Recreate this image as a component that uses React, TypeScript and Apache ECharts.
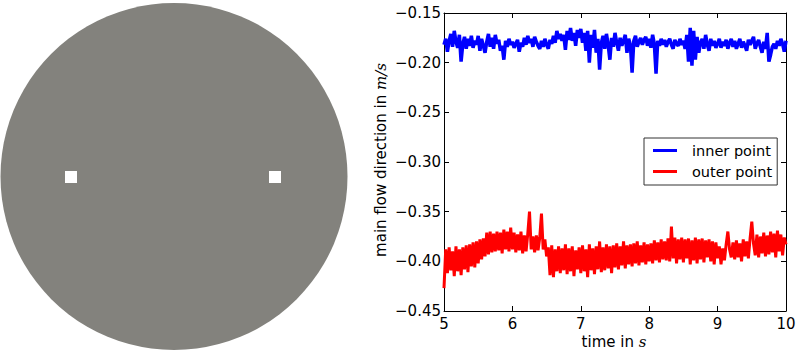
import React, { useEffect, useRef } from "react";
import * as echarts from "echarts";

// sampling grid of the recorded signals (seconds)
const T0 = 5;
const DT = 0.025;

const xTicks = [5, 6, 7, 8, 9, 10];
const yTicks = [-0.45, -0.4, -0.35, -0.3, -0.25, -0.2, -0.15];

const seriesNames = ["inner point", "outer point"];

// main flow velocity at the inner point (m/s), one value every 0.025 s from 5 s to 10 s
const innerPoint = [
  -0.182, -0.176, -0.189, -0.178, -0.171, -0.184, -0.168, -0.179, -0.185, -0.172,
  -0.199, -0.181, -0.174, -0.186, -0.176, -0.183, -0.173, -0.185, -0.178, -0.182,
  -0.173, -0.188, -0.176, -0.183, -0.19, -0.179, -0.171, -0.184, -0.175, -0.186,
  -0.172, -0.181, -0.177, -0.188, -0.183, -0.197, -0.178, -0.184, -0.176, -0.182,
  -0.179, -0.185, -0.181, -0.177, -0.189, -0.18, -0.184, -0.175, -0.182, -0.173,
  -0.18, -0.176, -0.184, -0.174, -0.179, -0.183, -0.186, -0.178, -0.184, -0.176,
  -0.182, -0.186, -0.177, -0.181, -0.173, -0.18, -0.168, -0.176, -0.171, -0.178,
  -0.172, -0.187, -0.168, -0.177, -0.165, -0.178, -0.17, -0.183, -0.167, -0.175,
  -0.166, -0.18, -0.17, -0.188, -0.168, -0.2, -0.172, -0.185, -0.167, -0.19,
  -0.176, -0.207, -0.18, -0.173, -0.186, -0.171, -0.182, -0.197, -0.175, -0.184,
  -0.17, -0.18, -0.188, -0.175, -0.183, -0.178, -0.172, -0.19, -0.176, -0.182,
  -0.21, -0.178, -0.173, -0.184, -0.179, -0.175, -0.182, -0.177, -0.174, -0.183,
  -0.176, -0.185, -0.172, -0.181, -0.211, -0.178, -0.183, -0.176, -0.182, -0.177,
  -0.184, -0.179, -0.176, -0.182, -0.186, -0.177, -0.181, -0.183, -0.176, -0.182,
  -0.178, -0.186, -0.172, -0.199, -0.165, -0.203, -0.168, -0.197, -0.174, -0.19,
  -0.18, -0.176, -0.186, -0.172, -0.182, -0.188, -0.176, -0.183, -0.178, -0.185,
  -0.181, -0.176, -0.185, -0.179, -0.183, -0.177, -0.186, -0.18, -0.176, -0.184,
  -0.178, -0.186, -0.181, -0.176, -0.185, -0.179, -0.183, -0.188, -0.177, -0.182,
  -0.178, -0.174, -0.186, -0.181, -0.177, -0.184, -0.19, -0.179, -0.186, -0.17,
  -0.199, -0.192, -0.184, -0.181, -0.186, -0.178, -0.183, -0.176, -0.181, -0.189,
  -0.178,
];

// main flow velocity at the outer point (m/s), same sampling
const outerPoint = [
  -0.427, -0.388, -0.412, -0.386, -0.409, -0.39, -0.415, -0.385, -0.41, -0.388,
  -0.414, -0.386, -0.408, -0.384, -0.411, -0.383, -0.405, -0.381, -0.406, -0.38,
  -0.402, -0.378, -0.398, -0.377, -0.395, -0.371, -0.393, -0.37, -0.391, -0.372,
  -0.39, -0.37, -0.389, -0.371, -0.392, -0.368, -0.388, -0.37, -0.39, -0.366,
  -0.388, -0.371, -0.391, -0.373, -0.389, -0.37, -0.392, -0.374, -0.39, -0.372,
  -0.35, -0.388, -0.375, -0.391, -0.374, -0.389, -0.376, -0.352, -0.388, -0.378,
  -0.395, -0.386, -0.414, -0.384, -0.416, -0.388, -0.41, -0.385, -0.412, -0.387,
  -0.409, -0.383, -0.413, -0.387, -0.41, -0.385, -0.415, -0.389, -0.408, -0.386,
  -0.412, -0.384, -0.41, -0.388, -0.416, -0.383, -0.409, -0.387, -0.413, -0.385,
  -0.408, -0.38, -0.411, -0.386, -0.409, -0.383, -0.407, -0.385, -0.412, -0.384,
  -0.406, -0.382, -0.408, -0.385, -0.404, -0.38, -0.407, -0.384, -0.403, -0.383,
  -0.405, -0.382, -0.402, -0.38, -0.404, -0.384, -0.401, -0.381, -0.403, -0.383,
  -0.4, -0.382, -0.402, -0.379, -0.399, -0.381, -0.401, -0.378, -0.398, -0.38,
  -0.399, -0.377, -0.4, -0.365, -0.397, -0.376, -0.402, -0.378, -0.398, -0.376,
  -0.401, -0.378, -0.397, -0.377, -0.403, -0.379, -0.399, -0.376, -0.402, -0.378,
  -0.398, -0.377, -0.401, -0.379, -0.396, -0.378, -0.4, -0.38, -0.403, -0.381,
  -0.397, -0.385, -0.403, -0.387, -0.399, -0.383, -0.37, -0.388, -0.396, -0.381,
  -0.398, -0.379, -0.396, -0.382, -0.4, -0.378, -0.395, -0.38, -0.397, -0.377,
  -0.36, -0.382, -0.394, -0.373, -0.396, -0.375, -0.392, -0.371, -0.395, -0.374,
  -0.393, -0.37, -0.391, -0.372, -0.396, -0.369, -0.39, -0.373, -0.394, -0.376,
  -0.383,
];

const FONT = "DejaVu Sans";

const fmtY = (v: number) => (v < 0 ? "\u2212" : "") + Math.abs(v).toFixed(2);

export default function App() {
  const ref = useRef<HTMLDivElement>(null);

  useEffect(() => {
    if (!ref.current) return;
    const chart = echarts.init(ref.current, undefined, { renderer: "svg" });

    const axisCommon = {
      type: "value" as const,
      axisLine: { show: true, onZero: false, lineStyle: { color: "#000", width: 1 } },
      axisTick: { show: true, inside: true, length: 5, lineStyle: { color: "#000", width: 1 } },
      splitLine: { show: false },
    };

    const toPairs = (arr: number[]) => arr.map((v, i) => [T0 + i * DT, v]);

    chart.setOption({
      animation: false,
      backgroundColor: "#fff",
      grid: { left: 444, right: 13, top: 13, bottom: 43 },
      xAxis: [
        {
          ...axisCommon,
          position: "bottom",
          min: xTicks[0],
          max: xTicks[xTicks.length - 1],
          interval: 1,
          axisLabel: { show: true, margin: 5, color: "#000", fontSize: 15, fontFamily: FONT },
        },
        {
          ...axisCommon,
          position: "top",
          min: xTicks[0],
          max: xTicks[xTicks.length - 1],
          interval: 1,
          axisLabel: { show: false },
        },
      ],
      yAxis: [
        {
          ...axisCommon,
          position: "left",
          min: yTicks[0],
          max: yTicks[yTicks.length - 1],
          interval: 0.05,
          axisLabel: {
            show: true,
            margin: 3,
            color: "#000",
            fontSize: 15,
            fontFamily: FONT,
            formatter: fmtY,
          },
        },
        {
          ...axisCommon,
          position: "right",
          min: yTicks[0],
          max: yTicks[yTicks.length - 1],
          interval: 0.05,
          axisLabel: { show: false },
        },
      ],
      legend: {
        orient: "vertical",
        left: 644,
        top: 138,
        width: 134,
        backgroundColor: "#fff",
        borderColor: "#333",
        borderWidth: 1,
        borderRadius: 0,
        padding: [5, 5, 6, 9],
        itemGap: 6,
        itemWidth: 24,
        itemHeight: 3,
        icon: "rect",
        textStyle: {
          color: "#000",
          fontSize: 14.5,
          fontFamily: FONT,
          lineHeight: 15,
          padding: [0, 0, 0, 10],
        },
        data: seriesNames,
      },
      series: [
        {
          name: seriesNames[0],
          type: "line",
          data: toPairs(innerPoint),
          showSymbol: false,
          symbol: "none",
          itemStyle: { color: "#0000ff" },
          lineStyle: { color: "#0000ff", width: 3.5 },
          z: 3,
        },
        {
          name: seriesNames[1],
          type: "line",
          data: toPairs(outerPoint),
          showSymbol: false,
          symbol: "none",
          itemStyle: { color: "#ff0000" },
          lineStyle: { color: "#ff0000", width: 3 },
          z: 3,
        },
      ],
      graphic: [
        {
          type: "circle",
          shape: { cx: 174, cy: 176.5, r: 173.5 },
          style: { fill: "#83827d" },
        },
        {
          type: "rect",
          shape: { x: 65, y: 171, width: 12, height: 12 },
          style: { fill: "#fff" },
        },
        {
          type: "rect",
          shape: { x: 269, y: 171, width: 12, height: 12 },
          style: { fill: "#fff" },
        },
        {
          type: "text",
          x: 381,
          y: 160,
          rotation: Math.PI / 2,
          style: {
            text: "{a|main flow direction in }{b|m/s}",
            align: "center",
            verticalAlign: "middle",
            rich: {
              a: { fontSize: 15, fontFamily: FONT, fill: "#000" },
              b: { fontSize: 15, fontFamily: "DejaVu Serif", fontStyle: "italic", fill: "#000" },
            },
          },
        },
        {
          type: "text",
          x: 614,
          y: 342,
          style: {
            text: "{a|time in }{b|s}",
            align: "center",
            verticalAlign: "middle",
            rich: {
              a: { fontSize: 15, fontFamily: FONT, fill: "#000" },
              b: { fontSize: 15, fontFamily: "DejaVu Serif", fontStyle: "italic", fill: "#000" },
            },
          },
        },
      ],
    });

    return () => chart.dispose();
  }, []);

  return (
    <div
      ref={ref}
      style={{ position: "absolute", left: 0, top: 0, width: 799, height: 354 }}
    />
  );
}
